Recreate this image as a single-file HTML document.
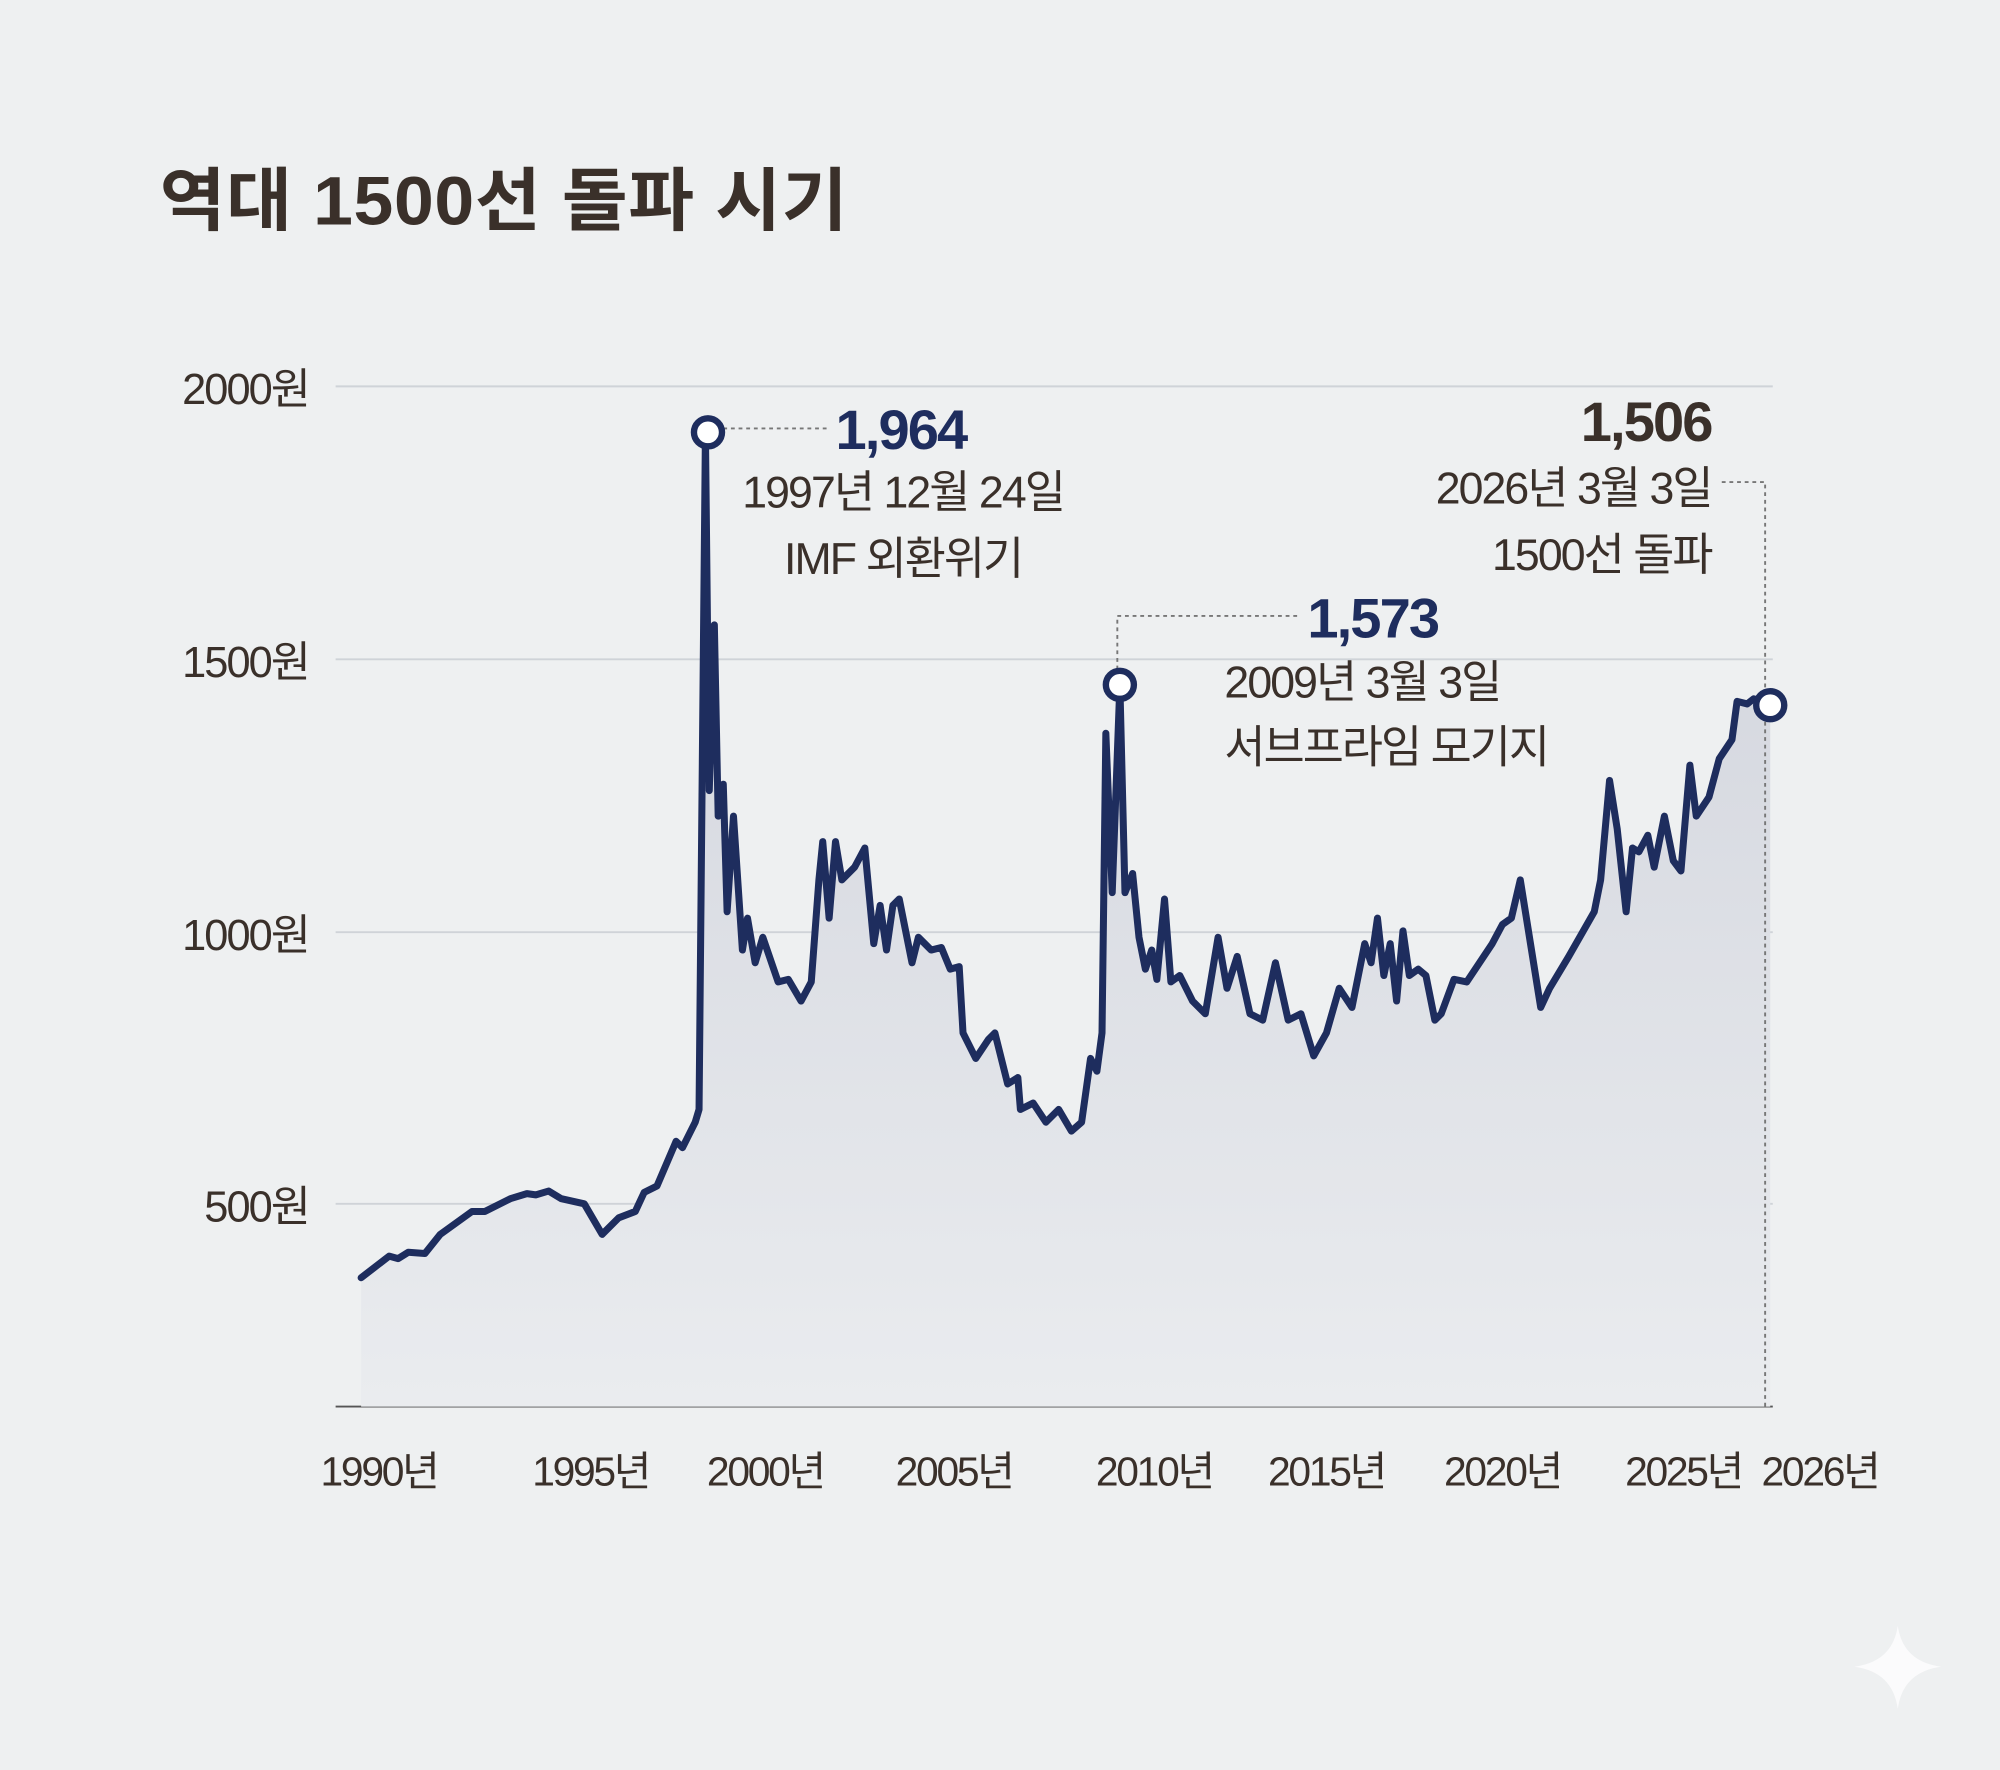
<!DOCTYPE html>
<html><head><meta charset="utf-8">
<style>
html,body{margin:0;padding:0;background:#eef0f1;}
svg{display:block}
text{font-family:"Liberation Sans","Noto Sans CJK KR",sans-serif;}
</style></head>
<body>
<svg width="2000" height="1770" viewBox="0 0 1568 1388" xmlns="http://www.w3.org/2000/svg">
<defs>
<linearGradient id="g" x1="0" y1="0" x2="0" y2="1">
<stop offset="0" stop-color="#cfd2db"/><stop offset="1" stop-color="#eaecef"/>
</linearGradient>
</defs>
<rect width="1568" height="1388" fill="#eef0f1"/>
<text x="125" y="176" font-size="54" font-weight="bold" fill="#3a302a" letter-spacing="0.5" textLength="540" lengthAdjust="spacingAndGlyphs">역대 1500선 돌파 시기</text>
<g stroke="#cfd3d8" stroke-width="1.5">
<line x1="263" y1="303" x2="1390" y2="303"/>
<line x1="263" y1="517" x2="1390" y2="517"/>
<line x1="263" y1="731" x2="1390" y2="731"/>
<line x1="263" y1="944" x2="1390" y2="944"/>
</g>
<line x1="263" y1="1103" x2="1390" y2="1103" stroke="#555" stroke-width="1.5"/>
<g font-size="34" fill="#3a302a" text-anchor="end" letter-spacing="-1.5">
<text x="242" y="317">2000원</text>
<text x="242" y="531">1500원</text>
<text x="242" y="745">1000원</text>
<text x="242" y="958">500원</text>
</g>
<g font-size="32" fill="#3a302a" text-anchor="middle" letter-spacing="-1.8">
<text x="297" y="1165">1990년</text>
<text x="463" y="1165">1995년</text>
<text x="600" y="1165">2000년</text>
<text x="748" y="1165">2005년</text>
<text x="905" y="1165">2010년</text>
<text x="1040" y="1165">2015년</text>
<text x="1178" y="1165">2020년</text>
<text x="1320" y="1165">2025년</text>
<text x="1427" y="1165">2026년</text>
</g>
<path id="p" d="M283,1002 L305,985 L312,987 L320,982 L333,983 L345,968 L370,950 L380,950 L400,940 L413,936 L420,937 L430,934 L440,940 L458,944 L472,968 L485,955 L498,950 L505,935 L515,930 L530,895 L535,900 L545,880 L548,870 L553,339 L556,620 L560,490 L563,640 L567,615 L570,715 L575,640 L582,745 L586,720 L592,755 L598,735 L610,770 L618,768 L628,785 L636,770 L642,690 L645,660 L650,720 L655,660 L660,690 L670,680 L678,665 L685,740 L690,710 L695,745 L700,710 L705,705 L715,755 L720,735 L730,745 L738,743 L745,760 L752,758 L755,810 L765,830 L775,815 L780,810 L790,850 L798,845 L800,870 L810,865 L820,880 L830,870 L840,887 L848,880 L855,830 L860,840 L864,810 L867,575 L872,700 L878,537 L882,700 L888,685 L893,735 L898,760 L903,745 L907,768 L913,705 L918,770 L925,765 L935,785 L945,795 L955,735 L962,775 L970,750 L980,795 L990,800 L1000,755 L1010,800 L1020,795 L1030,828 L1040,810 L1050,775 L1060,790 L1070,740 L1075,755 L1080,720 L1085,765 L1090,740 L1095,785 L1100,730 L1105,765 L1112,760 L1118,765 L1125,800 L1130,795 L1140,768 L1150,770 L1160,755 L1170,740 L1178,725 L1185,720 L1192,690 L1200,740 L1208,790 L1215,775 L1230,750 L1250,715 L1255,690 L1262,612 L1268,650 L1275,715 L1280,665 L1285,668 L1292,655 L1297,680 L1305,640 L1312,675 L1318,683 L1325,600 L1330,640 L1340,625 L1348,595 L1358,580 L1362,550 L1370,552 L1375,548 L1388,553" fill="none"/>
<path d="M283,1002 L305,985 L312,987 L320,982 L333,983 L345,968 L370,950 L380,950 L400,940 L413,936 L420,937 L430,934 L440,940 L458,944 L472,968 L485,955 L498,950 L505,935 L515,930 L530,895 L535,900 L545,880 L548,870 L553,339 L556,620 L560,490 L563,640 L567,615 L570,715 L575,640 L582,745 L586,720 L592,755 L598,735 L610,770 L618,768 L628,785 L636,770 L642,690 L645,660 L650,720 L655,660 L660,690 L670,680 L678,665 L685,740 L690,710 L695,745 L700,710 L705,705 L715,755 L720,735 L730,745 L738,743 L745,760 L752,758 L755,810 L765,830 L775,815 L780,810 L790,850 L798,845 L800,870 L810,865 L820,880 L830,870 L840,887 L848,880 L855,830 L860,840 L864,810 L867,575 L872,700 L878,537 L882,700 L888,685 L893,735 L898,760 L903,745 L907,768 L913,705 L918,770 L925,765 L935,785 L945,795 L955,735 L962,775 L970,750 L980,795 L990,800 L1000,755 L1010,800 L1020,795 L1030,828 L1040,810 L1050,775 L1060,790 L1070,740 L1075,755 L1080,720 L1085,765 L1090,740 L1095,785 L1100,730 L1105,765 L1112,760 L1118,765 L1125,800 L1130,795 L1140,768 L1150,770 L1160,755 L1170,740 L1178,725 L1185,720 L1192,690 L1200,740 L1208,790 L1215,775 L1230,750 L1250,715 L1255,690 L1262,612 L1268,650 L1275,715 L1280,665 L1285,668 L1292,655 L1297,680 L1305,640 L1312,675 L1318,683 L1325,600 L1330,640 L1340,625 L1348,595 L1358,580 L1362,550 L1370,552 L1375,548 L1388,553 L1388,1103 L283,1103 Z" fill="url(#g)"/>
<use href="#p" stroke="#1e2d5e" stroke-width="5.5" stroke-linejoin="round" stroke-linecap="round"/>
<g stroke="#777" stroke-width="1.5" stroke-dasharray="3,3" fill="none">
<path d="M567,336 L650,336"/>
<path d="M876,525 L876,483 L1020,483"/>
<path d="M1350,378 L1384,378 L1384,1103"/>
</g>
<g fill="#fff" stroke="#1e2d5e" stroke-width="5">
<circle cx="555" cy="339" r="11"/>
<circle cx="878" cy="537" r="11"/>
<circle cx="1388" cy="553" r="11"/>
</g>
<g font-size="35" fill="#3a302a" letter-spacing="-1.5">
<text x="655" y="352" font-size="44" font-weight="bold" fill="#1e2d5e" letter-spacing="-1.5">1,964</text>
<text x="708" y="398" text-anchor="middle">1997년 12월 24일</text>
<text x="708" y="450" text-anchor="middle">IMF 외환위기</text>
<text x="1025" y="500" font-size="44" font-weight="bold" fill="#1e2d5e" letter-spacing="-1.5">1,573</text>
<text x="960" y="547">2009년 3월 3일</text>
<text x="960" y="598">서브프라임 모기지</text>
<text x="1342" y="346" font-size="44" font-weight="bold" text-anchor="end">1,506</text>
<text x="1342" y="395" text-anchor="end">2026년 3월 3일</text>
<text x="1342" y="447" text-anchor="end">1500선 돌파</text>
</g>
<path d="M1488,1275 Q1492,1303 1522,1307 Q1492,1311 1488,1340 Q1484,1311 1454,1307 Q1484,1303 1488,1275 Z" fill="#fbfbfc"/>
</svg>
</body></html>
